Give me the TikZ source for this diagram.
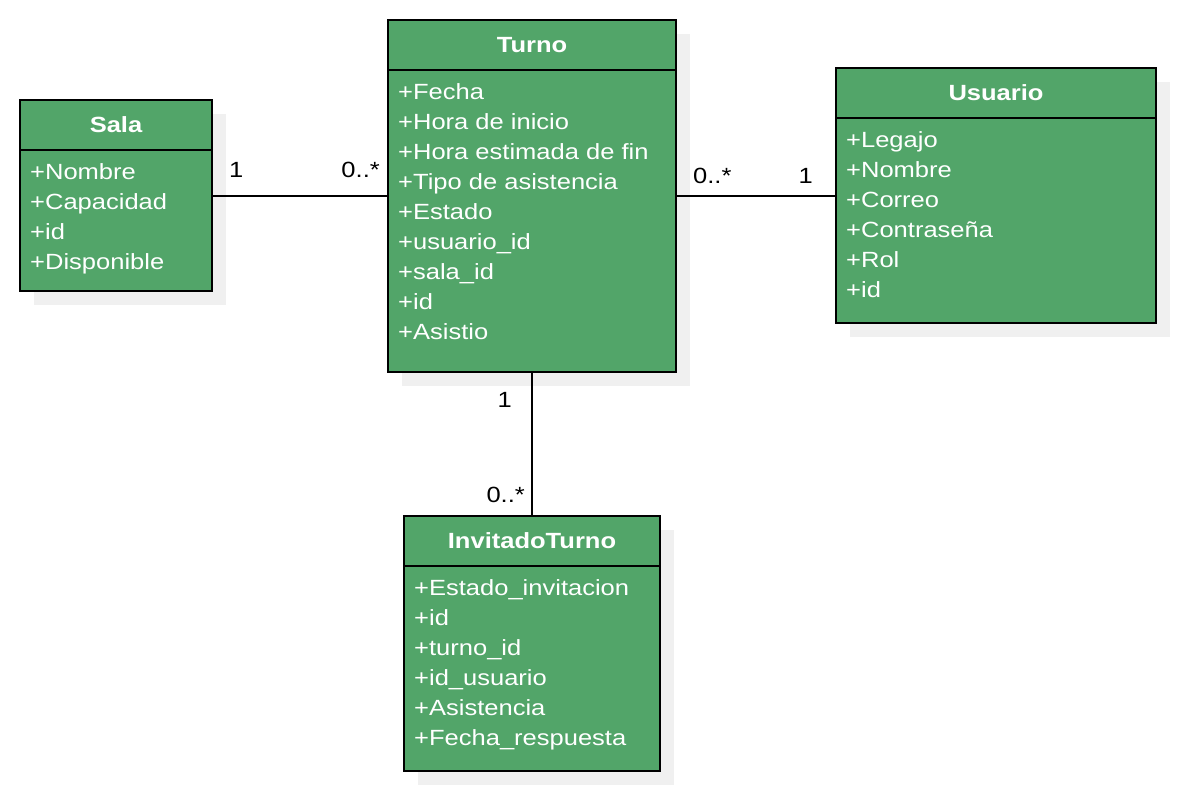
\documentclass[tikz,border=0pt]{standalone}
\usepackage{fontspec}
\setmainfont{Liberation Sans}[FakeStretch=1.16]
\definecolor{umlgreen}{HTML}{52A569}
\definecolor{shadowgray}{HTML}{F0F0F0}
\usetikzlibrary{positioning,shadows}

\begin{document}
\fontsize{22}{30}\selectfont
\begin{tikzpicture}[x=1pt, y=-1pt,
  classbox/.style={rectangle, draw=black, line width=2pt, fill=umlgreen, text=white, inner sep=0pt, outer sep=0pt,
    drop shadow={shadow xshift=14pt, shadow yshift=-14pt, fill=shadowgray, opacity=1}},
  head/.style={classbox, font=\bfseries, minimum height=50pt},
  attrs/.style={anchor=north west, align=left, inner sep=0pt, text=white},
  mult/.style={inner sep=0pt},
  conn/.style={draw=black, line width=2pt}]
\useasboundingbox (0,0) rectangle (1178,792);
% classes
\node[head, minimum width=192pt] (sala) at (116,125) {Sala};
\node[classbox, minimum width=192pt, minimum height=141pt, below=0pt of sala] (salab) {};
\node[attrs] (salaa) at ([shift={(10pt,-8pt)}]salab.north west) {\strut+Nombre\\+Capacidad\\+id\\+Disponible};

\node[head, minimum width=288pt] (turno) at (532,45) {Turno};
\node[classbox, minimum width=288pt, minimum height=302pt, below=0pt of turno] (turnob) {};
\node[attrs] (turnoa) at ([shift={(10pt,-8pt)}]turnob.north west) {\strut+Fecha\\+Hora de inicio\\+Hora estimada de fin\\+Tipo de asistencia\\+Estado\\+usuario\_id\\+sala\_id\\+id\\+Asistio};

\node[head, minimum width=320pt] (usuario) at (996,93) {Usuario};
\node[classbox, minimum width=320pt, minimum height=205pt, below=0pt of usuario] (usuariob) {};
\node[attrs] (usuarioa) at ([shift={(10pt,-8pt)}]usuariob.north west) {\strut+Legajo\\+Nombre\\+Correo\\+Contraseña\\+Rol\\+id};

\node[head, minimum width=256pt] (invitado) at (532,541) {InvitadoTurno};
\node[classbox, minimum width=256pt, minimum height=205pt, below=0pt of invitado] (invitadob) {};
\node[attrs] (invitadoa) at ([shift={(10pt,-8pt)}]invitadob.north west) {\strut+Estado\_invitacion\\+id\\+turno\_id\\+id\_usuario\\+Asistencia\\+Fecha\_respuesta};

% associations
\coordinate (se) at ([yshift=-46pt]salab.north east);
\coordinate (tw) at (se -| turnob.west);
\draw[conn] (se) -- (tw);
\node[mult, anchor=base west] (m1) at ([shift={(17pt,19pt)}]se) {1};
\node[mult, anchor=base east] (m2) at ([shift={(-8pt,19pt)}]tw) {0..*};

\coordinate (te) at ([yshift=-126pt]turnob.north east);
\coordinate (uw) at (te -| usuariob.west);
\draw[conn] (te) -- (uw);
\node[mult, anchor=base west] (m3) at ([shift={(17pt,13pt)}]te) {0..*};
\node[mult, anchor=base east] (m4) at ([shift={(-23pt,13pt)}]uw) {1};

\draw[conn] (turnob.south) -- (invitado.north);
\node[mult, anchor=base east] (m5) at ([shift={(-20pt,-35pt)}]turnob.south) {1};
\node[mult, anchor=base east] (m6) at ([shift={(-7pt,14pt)}]invitado.north) {0..*};
\end{tikzpicture}
\end{document}
